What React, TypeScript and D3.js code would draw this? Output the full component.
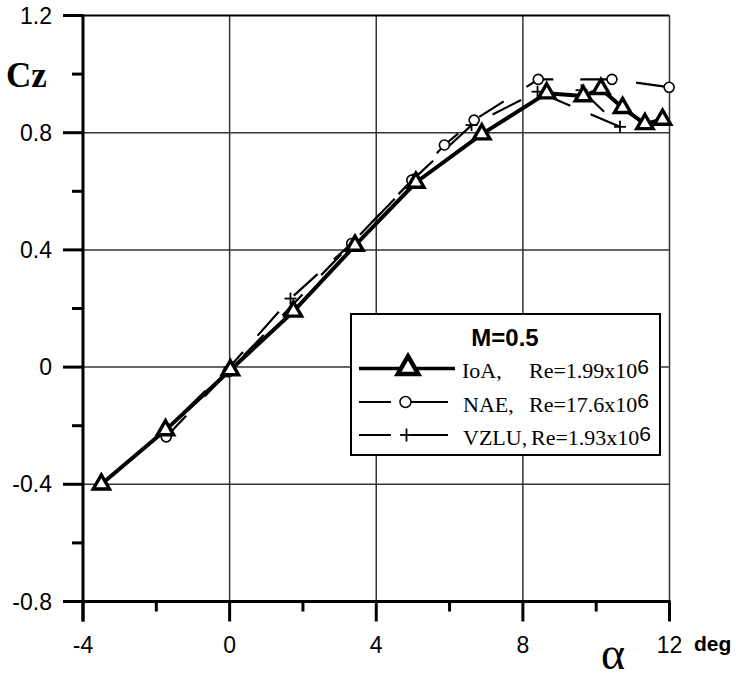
import React from 'react';
import * as d3 from 'd3';

// IoA, Re=1.99x10^6
const ioaAlpha = [-3.5, -1.75, 0.02, 1.74, 3.42, 5.08, 6.88, 8.65, 9.65, 10.13, 10.72, 11.33, 11.81];
const ioaCz = [-0.4, -0.215, -0.01, 0.19, 0.415, 0.63, 0.795, 0.935, 0.925, 0.95, 0.885, 0.83, 0.845];

// NAE, Re=17.6x10^6
const naeAlpha = [-1.73, -0.04, 3.33, 4.97, 5.86, 6.67, 8.42, 10.43, 11.99];
const naeCz = [-0.238, -0.016, 0.422, 0.638, 0.758, 0.843, 0.982, 0.982, 0.955];

// VZLU, Re=1.93x10^6
const vzluAlpha = [-3.5, -1.75, 0, 1.66, 3.4, 5.0, 6.6, 8.4, 10.65, 9.6];
const vzluCz = [-0.4, -0.215, 0.0, 0.234, 0.43, 0.64, 0.826, 0.94, 0.82, 0.945];

const xMajor = [-4, 0, 4, 8, 12];
const xMinor = [-2, 2, 6, 10];
const yMajor = [-0.8, -0.4, 0, 0.4, 0.8, 1.2];
const yMinor = [-0.6, -0.2, 0.2, 0.6, 1.0];
const yLabels = ['-0.8', '-0.4', '0', '0.4', '0.8', '1.2'];

const width = 736;
const height = 678;

const x = d3.scaleLinear().domain([-4, 12]).range([83, 669.5]);
const y = d3.scaleLinear().domain([-0.8, 1.2]).range([601.5, 15.5]);

const zip = (a: number[], c: number[]) => a.map((v, i) => [v, c[i]] as [number, number]);

const line = d3.line<[number, number]>()
  .x(d => x(d[0]))
  .y(d => y(d[1]));

const triPath = d3.symbol(d3.symbolTriangle, 115)();
const triBig = d3.symbol(d3.symbolTriangle, 180)();

const serif = '"Liberation Serif", "Times New Roman", serif';
const sans = '"Liberation Sans", Arial, sans-serif';

const Plus = ({ cx, cy, s = 6 }: { cx: number; cy: number; s?: number }) => (
  <g stroke="#000" strokeWidth={1.8}>
    <line x1={cx - s} x2={cx + s} y1={cy} y2={cy} />
    <line x1={cx} x2={cx} y1={cy - s} y2={cy + s} />
  </g>
);

const App = () => {
  const ioa = zip(ioaAlpha, ioaCz);
  const nae = zip(naeAlpha, naeCz);
  const vzlu = zip(vzluAlpha, vzluCz);
  const x0 = x.range()[0];
  const x1 = x.range()[1];
  const yTop = y.range()[1];
  const yBot = y.range()[0];

  return (
    <svg width={width} height={height} style={{ position: 'absolute', left: 0, top: 0, background: '#fff' }}>
      {/* grid */}
      <g stroke="#333" strokeWidth={1.5}>
        {xMajor.slice(1).map(v => (
          <line key={'gx' + v} x1={x(v)} x2={x(v)} y1={yTop} y2={yBot} />
        ))}
        {yMajor.slice(1).map(v => (
          <line key={'gy' + v} x1={x0} x2={x1} y1={y(v)} y2={y(v)} stroke={v === 1.2 ? '#000' : '#333'} strokeWidth={v === 1.2 ? 2 : 1.5} />
        ))}
      </g>

      {/* axes */}
      <g stroke="#000" strokeWidth={3}>
        <line x1={x0} x2={x0} y1={yTop - 1} y2={yBot + 20} />
        <line x1={x0 - 20} x2={x1 + 1} y1={yBot} y2={yBot} />
        {xMajor.map(v => (
          <line key={'tx' + v} x1={x(v)} x2={x(v)} y1={yBot} y2={yBot + 20} />
        ))}
        {xMinor.map(v => (
          <line key={'mx' + v} x1={x(v)} x2={x(v)} y1={yBot} y2={yBot + 10} />
        ))}
        {yMajor.map(v => (
          <line key={'ty' + v} x1={x0 - 20} x2={x0} y1={y(v)} y2={y(v)} />
        ))}
        {yMinor.map(v => (
          <line key={'my' + v} x1={x0 - 11} x2={x0} y1={y(v)} y2={y(v)} />
        ))}
      </g>

      <g fontFamily={sans} fontSize={23} fill="#000">
        {yMajor.map((v, i) => (
          <text key={'ly' + v} x={52} y={y(v) + 8} textAnchor="end">{yLabels[i]}</text>
        ))}
        {xMajor.map(v => (
          <text key={'lx' + v} x={x(v)} y={653} textAnchor="middle">{v}</text>
        ))}
      </g>
      <text x={694} y={651} fontFamily={sans} fontWeight="bold" fontSize={21}>deg</text>
      <text x={601} y={669} fontFamily={serif} fontSize={46}>α</text>
      <text x={6} y={86.5} fontFamily={serif} fontWeight="bold" fontSize={35}>Cz</text>

      {/* VZLU */}
      <path d={line(vzlu) || ''} fill="none" stroke="#000" strokeWidth={2.2} strokeDasharray="32 22" />
      {vzlu.map((d, i) => (
        <Plus key={'pv' + i} cx={x(d[0])} cy={y(d[1])} />
      ))}

      {/* NAE */}
      <path d={line(nae) || ''} fill="none" stroke="#000" strokeWidth={2.2} strokeDasharray="29 27" />
      {nae.map((d, i) => (
        <circle key={'pn' + i} cx={x(d[0])} cy={y(d[1])} r={5} fill="#fff" stroke="#000" strokeWidth={1.6} />
      ))}

      {/* IoA */}
      <path d={line(ioa) || ''} fill="none" stroke="#000" strokeWidth={4} strokeLinejoin="round" />
      {ioa.map((d, i) => (
        <path key={'pi' + i} d={triPath || ''} transform={`translate(${x(d[0])},${y(d[1])})`} fill="#fff" stroke="#000" strokeWidth={3.4} />
      ))}

      {/* legend */}
      <g>
        <rect x={351} y={314} width={309} height={141} fill="#fff" stroke="#000" strokeWidth={2} />
        <text x={505} y={346} textAnchor="middle" fontFamily={sans} fontWeight="bold" fontSize={24}>M=0.5</text>

        <line x1={359} x2={455} y1={368.5} y2={368.5} stroke="#000" strokeWidth={3.5} />
        <path d={triBig || ''} transform="translate(408,368)" fill="#fff" stroke="#000" strokeWidth={4.5} />
        <text x={462} y={378} fontFamily={serif} fontSize={22}>IoA,</text>
        <text x={529} y={378} fontFamily={serif} fontSize={22}>Re=1.99x10<tspan fontFamily={sans} fontSize={21} dy={-4}>6</tspan></text>

        <line x1={359} x2={391} y1={402} y2={402} stroke="#000" strokeWidth={2} />
        <line x1={411} x2={448} y1={402} y2={402} stroke="#000" strokeWidth={2} />
        <circle cx={405.5} cy={402} r={5.5} fill="#fff" stroke="#000" strokeWidth={1.5} />
        <text x={463} y={411.5} fontFamily={serif} fontSize={22}>NAE,</text>
        <text x={529} y={411.5} fontFamily={serif} fontSize={22}>Re=17.6x10<tspan fontFamily={sans} fontSize={21} dy={-4}>6</tspan></text>

        <line x1={359} x2={391} y1={435} y2={435} stroke="#000" strokeWidth={2} />
        <line x1={411} x2={448} y1={435} y2={435} stroke="#000" strokeWidth={2} />
        <Plus cx={406.5} cy={435} s={6.5} />
        <text x={463} y={445} fontFamily={serif} fontSize={22}>VZLU,</text>
        <text x={531} y={445} fontFamily={serif} fontSize={22}>Re=1.93x10<tspan fontFamily={sans} fontSize={21} dy={-4}>6</tspan></text>
      </g>
    </svg>
  );
};

export default App;
